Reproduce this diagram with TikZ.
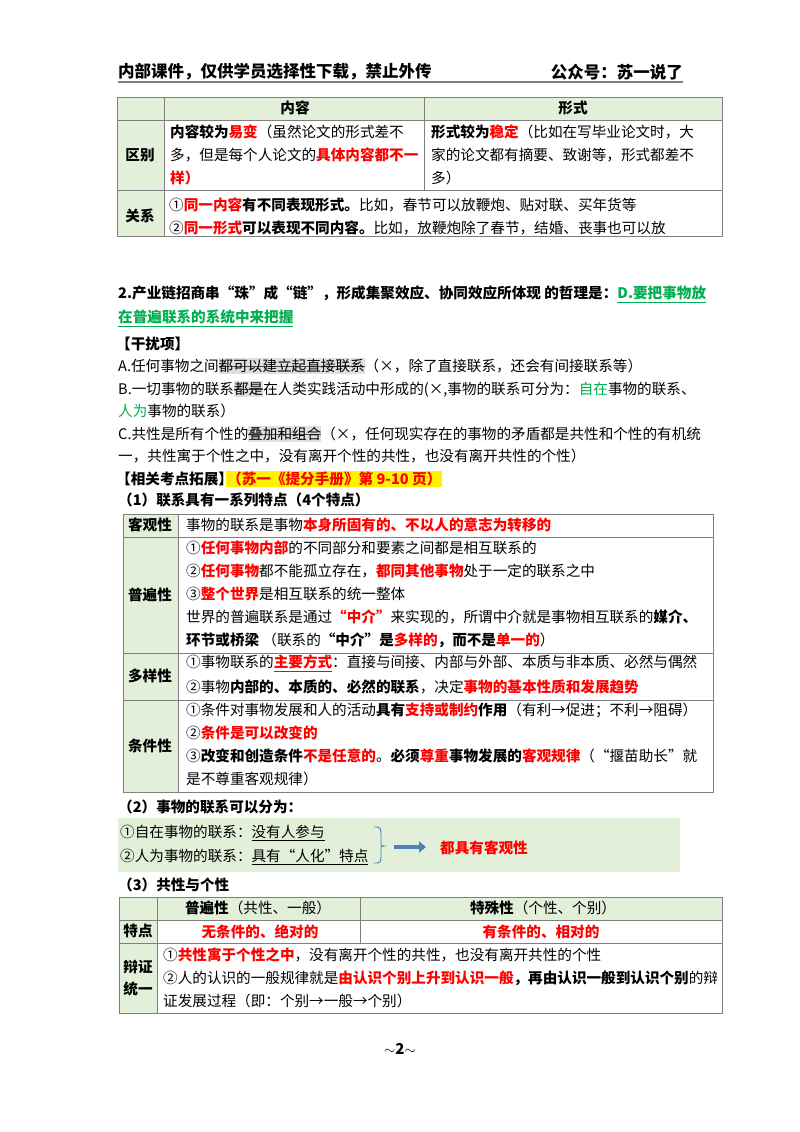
\documentclass[tikz,border=0pt]{standalone}
\usepackage{fontspec}
\setmainfont{Noto Sans CJK SC}
\usetikzlibrary{arrows.meta,decorations.pathreplacing}
\definecolor{tg}{HTML}{E2EFD9}
\definecolor{bd}{HTML}{7F7F7F}
\definecolor{gr}{HTML}{00B050}
\definecolor{rd}{HTML}{FF0000}
\definecolor{bl}{HTML}{4F81BD}
\newcommand{\R}[1]{\textcolor{rd}{#1}}
\newcommand{\Rb}[1]{\textcolor{rd}{\textbf{#1}}}
\newcommand{\Gr}[1]{\textcolor{gr}{#1}}
\newcommand{\Bf}[1]{\textbf{#1}}
\newcommand{\strk}[1]{\setbox0\hbox{#1}\rlap{\color{black!12}\rule[-0.22em]{\wd0}{1.15em}}\rlap{\color{black!70}\rule[0.32em]{\wd0}{0.7pt}}\box0}
\newcommand{\uln}[1]{\setbox0\hbox{#1}\rlap{\rule[-0.25em]{\wd0}{0.6pt}}\box0}
\newcommand{\fs}{\fontsize{14.6}{16}\selectfont}
\begin{document}
\begin{tikzpicture}[x=1pt,y=-1pt,
  txt/.style={anchor=west,inner sep=0,font=\fs},
  ctr/.style={anchor=center,inner sep=0,font=\fs},
  cell/.style={draw=bd,line width=0.8pt},
  gcell/.style={draw=bd,line width=0.8pt,fill=tg}]
\useasboundingbox (0,0) rectangle (800,1132);
\fill[white] (0,0) rectangle (800,1132);
% header
\node[txt,font=\fontsize{16.5}{18}\selectfont\bfseries] (h1) at (118,72) {内部课件，仅供学员选择性下载，禁止外传};
\node[txt,font=\fontsize{16.5}{18}\selectfont\bfseries,anchor=east] (h2) at (683,72) {公众号：苏一说了};
\draw[bd,line width=1.6pt] (118,82) -- (683,82);
% table 1
\filldraw[gcell] (117,97) rectangle (722,120);
\filldraw[gcell] (117,120) rectangle (164,236);
\draw[cell] (164,120) rectangle (722,236);
\draw[cell] (117,190) -- (722,190);
\draw[cell] (424,97) -- (424,190);
\draw[cell] (164,97) -- (164,236);
\node[ctr] (t1a) at (295,108) {\Bf{内容}};
\node[ctr] (t1b) at (573,108) {\Bf{形式}};
\node[ctr] (t1c) at (140,155) {\Bf{区别}};
\node[ctr] (t1d) at (140,216) {\Bf{关系}};
\node[txt] at (170,132) {\Bf{内容较为}\Rb{易变}（虽然论文的形式差不};
\node[txt] at (170,155) {多，但是每个人论文的\Rb{具体内容都不一}};
\node[txt] at (170,178) {\Rb{样）}};
\node[txt] at (431,132) {\Bf{形式较为}\Rb{稳定}（比如在写毕业论文时，大};
\node[txt] at (431,155) {家的论文都有摘要、致谢等，形式都差不};
\node[txt] at (431,178) {多）};
\node[txt] at (169,205) {①\Rb{同一内容}\Bf{有不同表现形式。}比如，春节可以放鞭炮、贴对联、买年货等};
\node[txt] at (169,228) {②\Rb{同一形式}\Bf{可以表现不同内容。}比如，放鞭炮除了春节，结婚、丧事也可以放};
% question 2
\node[txt] (q1) at (118,294) {\Bf{2.产业链招商串“珠”成“链”，形成集聚效应、协同效应所体现 的哲理是：}\textcolor{gr}{\Bf{\uln{D.要把事物放}}}};
\node[txt] (q2) at (118,318) {\textcolor{gr}{\Bf{\uln{在普遍联系的系统中来把握}}}};
\node[txt] at (116,344) {\Bf{【干扰项】}};
\node[txt] at (118,366) {A.任何事物之间\strk{都可以建立起直接联系}（×，除了直接联系，还会有间接联系等）};
\node[txt] at (118,389) {B.一切事物的联系\strk{都是}在人类实践活动中形成的(×,事物的联系可分为：\Gr{自在}事物的联系、};
\node[txt] at (118,411) {\Gr{人为}事物的联系）};
\node[txt] at (118,434) {C.共性是所有个性的\strk{叠加和组合}（×，任何现实存在的事物的矛盾都是共性和个性的有机统};
\node[txt] at (118,456) {一，共性寓于个性之中，没有离开个性的共性，也没有离开共性的个性）};
\node[txt] (k) at (116,479) {\Bf{【相关考点拓展】}};
\node[txt,fill=yellow,inner sep=1pt] (y) at (226,479) {\Rb{（苏一《提分手册》第 9-10 页）}};
\node[txt] at (118,500) {\Bf{（1）联系具有一系列特点（4个特点）}};
% table 2
\filldraw[gcell] (123,514) rectangle (178,792);
\draw[cell] (178,514) rectangle (713,792);
\foreach \yy in {537,653,700} \draw[cell] (123,\yy) -- (713,\yy);
\node[ctr] at (150,525) {\Bf{客观性}};
\node[ctr] at (150,595) {\Bf{普遍性}};
\node[ctr] at (150,676) {\Bf{多样性}};
\node[ctr] at (150,746) {\Bf{条件性}};
\node[txt] at (186,525) {事物的联系是事物\Rb{本身所固有的、不以人的意志为转移的}};
\node[txt] at (186,548) {①\Rb{任何事物内部}的不同部分和要素之间都是相互联系的};
\node[txt] at (186,571) {②\Rb{任何事物}都不能孤立存在，\Rb{都同其他事物}处于一定的联系之中};
\node[txt] at (186,594) {③\Rb{整个世界}是相互联系的统一整体};
\node[txt] at (186,617) {世界的普遍联系是通过\Rb{“中介”}来实现的，所谓中介就是事物相互联系的\Bf{媒介、}};
\node[txt] at (186,640) {\Bf{环节或桥梁} （联系的\Bf{“中介”是}\Rb{多样的}\Bf{，而不是}\Rb{单一的}）};
\node[txt] at (186,663) {①事物联系的\textcolor{rd}{\Bf{\uln{主要方式}}}：直接与间接、内部与外部、本质与非本质、必然与偶然};
\node[txt] at (186,687) {②事物\Bf{内部的、本质的、必然的联系}，决定\Rb{事物的基本性质和发展趋势}};
\node[txt] at (186,710) {①条件对事物发展和人的活动\Bf{具有}\Rb{支持或制约}\Bf{作用}（有利→促进；不利→阻碍）};
\node[txt] at (186,733) {②\Rb{条件是可以改变的}};
\node[txt] at (186,756) {③\Bf{改变和创造条件}\Rb{不是任意的}。\Bf{必须}\Rb{尊重}\Bf{事物发展的}\Rb{客观规律}（“揠苗助长”就};
\node[txt] at (186,779) {是不尊重客观规律）};
% (2)
\node[txt] at (118,807) {\Bf{（2）事物的联系可以分为：}};
\fill[tg] (118,818) rectangle (680,872);
\node[txt] (l1) at (120,833) {①自在事物的联系：\uln{没有人参与}};
\node[txt] (l2) at (120,857) {②人为事物的联系：\uln{具有“人化”特点}};
\draw[bl,line width=0.9pt] (374,827) .. controls (381,827) .. (381,838) -- (381,843) .. controls (381,846) .. (384,846) .. controls (381,846) .. (381,849) -- (381,854) .. controls (381,863) .. (374,863);
\coordinate (a1) at (394,847);
\coordinate (a2) at (426,847);
\draw[bl,line width=4pt,-{Triangle[length=7pt,width=11pt]}] (a1) -- (a2);
\node[txt] (ob) at (440,848) {\Rb{都具有客观性}};
% (3)
\node[txt] at (118,885) {\Bf{（3）共性与个性}};
\filldraw[gcell] (119,897) rectangle (722,920);
\filldraw[gcell] (119,920) rectangle (157,1013);
\draw[cell] (157,920) rectangle (722,1013);
\draw[cell] (119,943) -- (722,943);
\draw[cell] (157,897) -- (157,943);
\draw[cell] (360,897) -- (360,943);
\node[ctr] at (258,908) {\Bf{普遍性}（共性、一般）};
\node[ctr] at (543,908) {\Bf{特殊性}（个性、个别）};
\node[ctr] at (138,931) {\Bf{特点}};
\node[ctr] at (260,932) {\Rb{无条件的、绝对的}};
\node[ctr] at (541,932) {\Rb{有条件的、相对的}};
\node[ctr] at (138,967) {\Bf{辩证}};
\node[ctr] at (138,989) {\Bf{统一}};
\node[txt] at (163,955) {①\Rb{共性寓于个性之中}，没有离开个性的共性，也没有离开共性的个性};
\node[txt] at (163,978) {②人的认识的一般规律就是\Rb{由认识个别上升到认识一般}\Bf{，再由认识一般到认识个别}的辩};
\node[txt] at (163,1001) {证发展过程（即：个别→一般→个别）};
\node[ctr,font=\fontsize{15}{16}\selectfont\bfseries] (pg) at (400,1049) {$\sim$2$\sim$};
\end{tikzpicture}
\end{document}
